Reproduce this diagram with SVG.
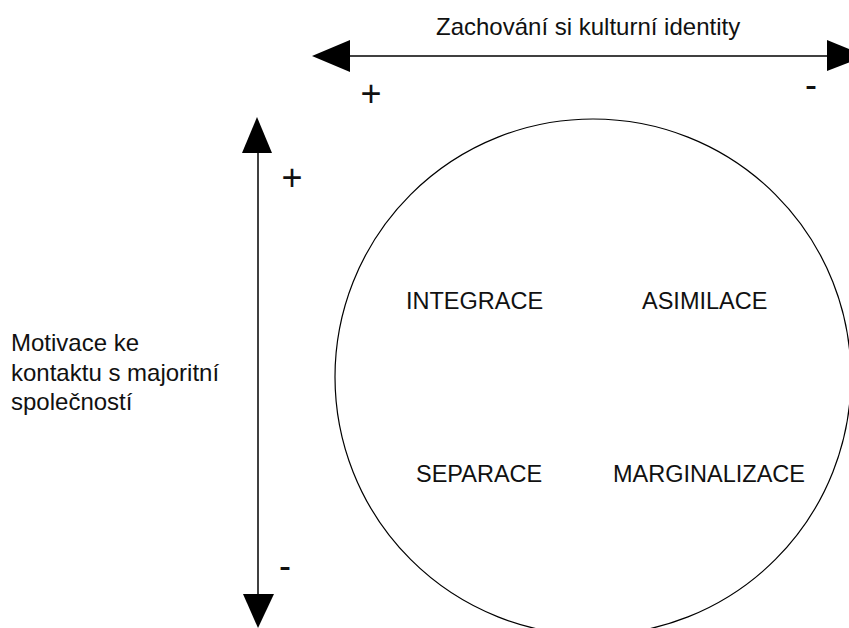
<svg xmlns="http://www.w3.org/2000/svg" width="849" height="628" viewBox="0 0 849 628">
<style>
.t{font-family:"Liberation Sans",Arial,sans-serif;fill:#111}
.lbl{font-size:23.5px}
.ax{font-size:24px}
.sg{font-size:36px;text-anchor:middle}
.ln{stroke:#000;stroke-width:1.5;fill:none}
.hd{fill:#000}
</style>
<rect width="849" height="628" fill="#fff"/>
<g id="connectors">
  <line class="ln" x1="345" y1="56" x2="830" y2="56"/>
  <polygon class="hd" points="312,56 350,40 350,72"/>
  <polygon class="hd" points="866,56 827,40 827,71"/>
  <line class="ln" x1="258" y1="150" x2="258" y2="597"/>
  <polygon class="hd" points="257,117 242,153 272,153"/>
  <polygon class="hd" points="258,628 243,594 274,594"/>
</g>
<g id="axis-x-label">
  <text class="t ax" x="436" y="35">Zachování si kulturní identity</text>
  <text class="t sg" x="371" y="106">+</text>
  <text class="t sg" x="811" y="97">-</text>
</g>
<g id="axis-y-label">
  <text class="t ax" x="11" y="351">Motivace ke</text>
  <text class="t ax" x="11" y="381">kontaktu s majoritní</text>
  <text class="t ax" x="11" y="410">společností</text>
  <text class="t sg" x="292" y="190">+</text>
  <text class="t sg" x="285" y="578">-</text>
</g>
<g id="circle">
  <circle cx="593" cy="377" r="258" fill="none" stroke="#000" stroke-width="1.2"/>
</g>
<g id="integrace"><text class="t lbl" x="406" y="309">INTEGRACE</text></g>
<g id="asimilace"><text class="t lbl" x="642" y="309">ASIMILACE</text></g>
<g id="separace"><text class="t lbl" x="416" y="482">SEPARACE</text></g>
<g id="marginalizace"><text class="t lbl" x="613" y="482">MARGINALIZACE</text></g>
</svg>
